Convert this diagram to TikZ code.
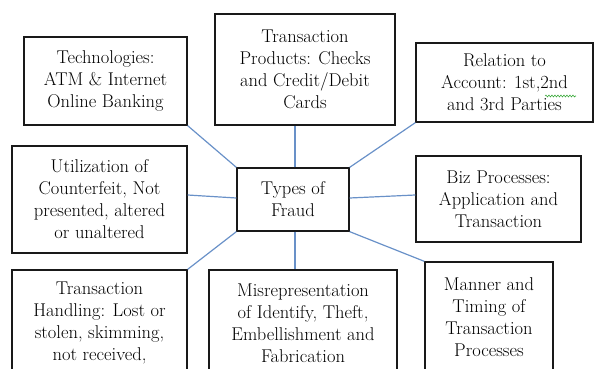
\documentclass[tikz,border=0pt]{standalone}
\usetikzlibrary{decorations.pathmorphing}
\definecolor{linkblue}{RGB}{105,145,200}
\definecolor{spellgreen}{RGB}{60,170,60}
\begin{document}
\begin{tikzpicture}[x=1pt,y=-1pt,
  box/.style={draw=black!90, line width=1.3pt, align=center, inner sep=0pt,
    font=\fontsize{18.5}{22}\selectfont},
  link/.style={draw=linkblue, line width=1.2pt}]
\useasboundingbox (0,0) rectangle (594,369);
\clip (0,0) rectangle (594,369);
\node[box, minimum width=163pt, minimum height=88pt] (tech) at (105.5,81)
  {Technologies:\\ATM \& Internet\\Online Banking};
\node[box, minimum width=180pt, minimum height=111pt] (prod) at (305,69.5)
  {Transaction\\Products: Checks\\and Credit/Debit\\Cards};
\node[box, minimum width=177pt, minimum height=79pt] (rel) at (504.5,82.5)
  {Relation to\\Account: 1st,2nd\\and 3rd Parties};
\node[box, minimum width=175pt, minimum height=107pt] (util) at (99.5,199.5)
  {Utilization of\\Counterfeit, Not\\presented, altered\\or unaltered};
\node[box, minimum width=112pt, minimum height=63pt] (center) at (293,199.5)
  {Types of\\Fraud};
\node[box, minimum width=165pt, minimum height=86pt] (biz) at (498.5,199)
  {Biz Processes:\\Application and\\Transaction};
\node[box, minimum width=175pt, minimum height=106pt] (hand) at (99.5,323)
  {Transaction\\Handling: Lost or\\stolen, skimming,\\not received,};
\node[box, minimum width=188pt, minimum height=106pt] (mis) at (303,323)
  {Misrepresentation\\of Identify, Theft,\\Embellishment and\\Fabrication};
\node[box, minimum width=128pt, minimum height=110pt] (man) at (489,317)
  {Manner and\\Timing of\\Transaction\\Processes};
% spell-check squiggle
\coordinate (sqa) at (545,96);
\coordinate (sqb) at (576,96);
\draw[spellgreen, line width=0.6pt, decorate,
  decoration={snake, amplitude=0.9pt, segment length=3pt}] (sqa) -- (sqb);
% connectors
\draw[link] (tech.south east) -- (center.north west);
\draw[link] ([xshift=2pt]center.north) -- ([xshift=2pt]center.north |- prod.south);
\draw[link] (rel.south west) -- (center.north east);
\draw[link] ([yshift=4.5pt]util.east) -- ([yshift=1.5pt]center.west);
\draw[link] ([yshift=1.5pt]center.east) -- ([yshift=4pt]biz.west);
\draw[link] (center.south west) -- (hand.north east);
\draw[link] ([xshift=2pt]center.south) -- ([xshift=2pt]center.south |- mis.north);
\draw[link] (center.south east) -- (man.north west);
\end{tikzpicture}
\end{document}
